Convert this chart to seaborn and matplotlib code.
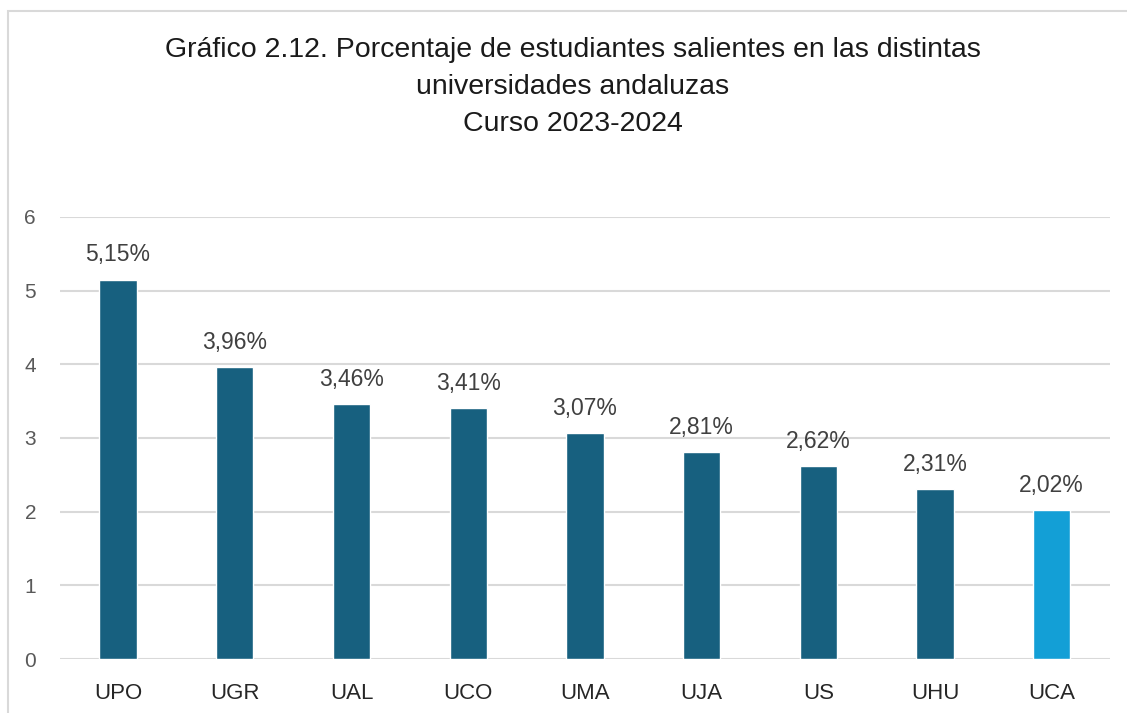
import matplotlib
matplotlib.use("Agg")
import matplotlib.pyplot as plt
import seaborn as sns
import pandas as pd
from matplotlib.patches import Rectangle

# Data
universidades = ["UPO", "UGR", "UAL", "UCO", "UMA", "UJA", "US", "UHU", "UCA"]
porcentajes = [5.15, 3.96, 3.46, 3.41, 3.07, 2.81, 2.62, 2.31, 2.02]
etiquetas = ["5,15%", "3,96%", "3,46%", "3,41%", "3,07%", "2,81%", "2,62%", "2,31%", "2,02%"]
y_ticks = [0, 1, 2, 3, 4, 5, 6]

DARK = "#17607f"
LIGHT = "#139fd6"

sns.set_theme(style="white")
plt.rcParams["font.family"] = ["Liberation Sans", "DejaVu Sans"]

df = pd.DataFrame({"Universidad": universidades, "Porcentaje": porcentajes})
palette = {u: (LIGHT if u == "UCA" else DARK) for u in universidades}

fig = plt.figure(figsize=(11.27, 7.13), dpi=100)
ax = fig.add_axes([0.053, 0.0757, 0.932, 0.62])

sns.barplot(
    data=df,
    x="Universidad",
    y="Porcentaje",
    hue="Universidad",
    palette=palette,
    saturation=1,
    width=0.32,
    legend=False,
    ax=ax,
)

# value labels
for i, (v, lab) in enumerate(zip(porcentajes, etiquetas)):
    ax.text(i, v + 0.18, lab, ha="center", va="bottom", fontsize=16.5, color="#404040")

ax.set_ylim(0, 6)
ax.set_xlim(-0.5, len(universidades) - 0.5)
ax.set_yticks(y_ticks)
ax.set_yticklabels([str(t) for t in y_ticks], fontsize=15, color="#595959")
ax.tick_params(axis="x", labelsize=16, labelcolor="#262626", length=0, pad=17)
ax.tick_params(axis="y", length=0, pad=17)
ax.set_xlabel("")
ax.set_ylabel("")
ax.grid(axis="y", color="#d9d9d9", linewidth=1.5)
ax.set_axisbelow(True)
for s in ax.spines.values():
    s.set_visible(False)

fig.text(
    0.508, 0.948,
    "Gráfico 2.12. Porcentaje de estudiantes salientes en las distintas\n"
    "universidades andaluzas\nCurso 2023-2024",
    ha="center", va="top", fontsize=20.5, color="#1a1a1a", linespacing=1.55,
)

# chart border
fig.patches.append(
    Rectangle((8 / 1127, -0.05), 1.1, 1.05 - 11 / 713, transform=fig.transFigure,
              fill=False, edgecolor="#d9d9d9", linewidth=1.5)
)

fig.savefig("out.png", dpi=100, facecolor="white")
